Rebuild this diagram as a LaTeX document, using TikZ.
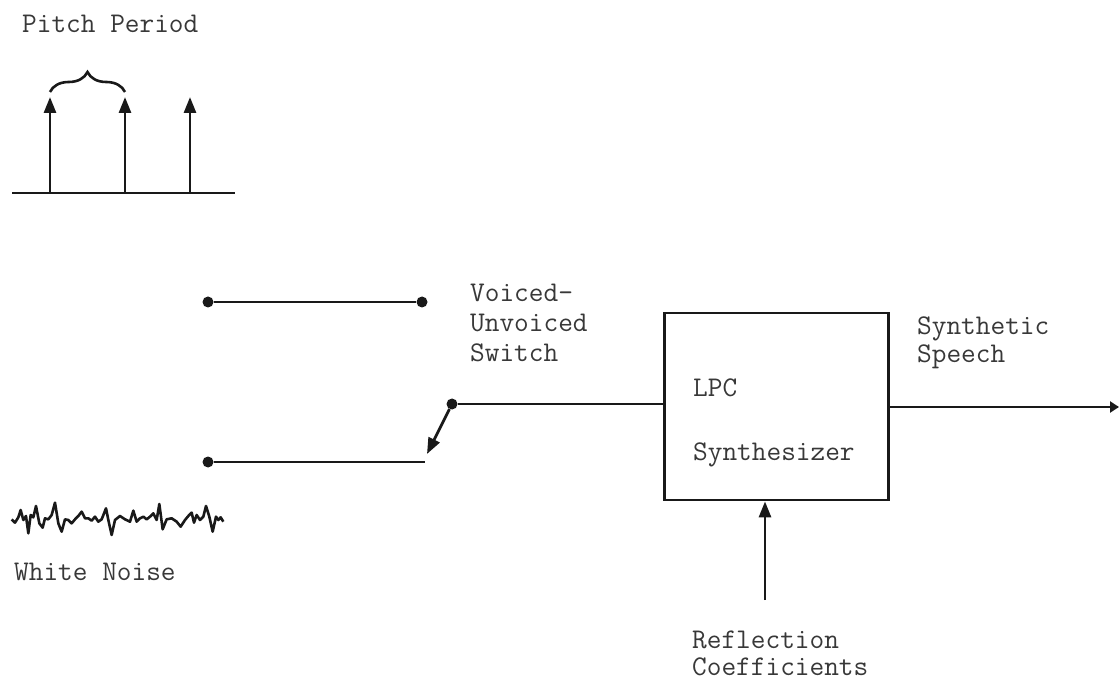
\documentclass[tikz,border=0pt]{standalone}
\usepackage{fontspec}
\usetikzlibrary{arrows.meta,decorations.pathreplacing}
\begin{document}
\begin{tikzpicture}[x=1pt,y=-1pt,
  wire/.style={line width=2.8pt,draw=black!90,line cap=butt},
  arr/.style={wire,-{Triangle[length=16pt,width=12pt]}},
  dot/.style={circle,fill=black!90,inner sep=0pt,minimum size=11pt},
  lbl/.style={anchor=base west,inner sep=0pt,text=black!78,
    font=\ttfamily\fontsize{28.5}{34}\selectfont},
  blk/.style={draw=black!90,line width=2.8pt,inner sep=0pt}]
\useasboundingbox (0,0) rectangle (1119,684);

% pulse train source
\node[lbl] (pitch) at (22,33) {Pitch Period};
\coordinate (axl) at (12,193);
\coordinate (axr) at (235,193);
\draw[wire] (axl) -- (axr);
\coordinate (p1) at (50,193);
\coordinate (p2) at (125,193);
\coordinate (p3) at (190,193);
\coordinate (t1) at (50,97);
\coordinate (t2) at (125,97);
\coordinate (t3) at (190,97);
\draw[arr] (p1) -- (t1);
\draw[arr] (p2) -- (t2);
\draw[arr] (p3) -- (t3);
\coordinate (b1) at (50,92);
\coordinate (b2) at (125,92);
\draw[line width=2.6pt,draw=black!90,decorate,decoration={brace,amplitude=20pt}] (b1) -- (b2);

% switch contacts
\node[dot] (va) at (208,302) {};
\node[dot] (vb) at (422,302) {};
\draw[wire] (va) -- (vb);
\node[dot] (ua) at (208,462) {};
\coordinate (ub) at (425,462);
\draw[wire] (ua) -- (ub);
\node[dot] (piv) at (452,404) {};
\coordinate (arm) at (427,454);
\draw[arr] (piv) -- (arm);
\node[lbl] (sw1) at (470,302) {Voiced-};
\node[lbl] (sw2) at (470,332) {Unvoiced};
\node[lbl] (sw3) at (470,362) {Switch};

% white noise source
\begin{scope}[shift={(0,480)},scale=1/3]
\draw[line width=2.6pt,draw=black!90,line join=round]
 (35,118) -- (45,128) -- (55,112) -- (62,90) -- (70,120) -- (78,108) -- (85,160)
 -- (92,105) -- (100,112) -- (108,78) -- (118,130) -- (128,143) -- (135,115)
 -- (145,118) -- (155,105) -- (165,68) -- (175,130) -- (185,155) -- (195,118)
 -- (205,120) -- (215,130) -- (225,118) -- (235,108) -- (245,95) -- (255,115)
 -- (265,115) -- (275,122) -- (285,110) -- (295,125) -- (305,118) -- (318,85)
 -- (325,120) -- (335,165) -- (345,120) -- (360,108) -- (375,118) -- (390,125)
 -- (400,92) -- (410,125) -- (420,115) -- (430,110) -- (440,118) -- (450,110)
 -- (460,100) -- (470,120) -- (478,72) -- (488,148) -- (500,118) -- (515,115)
 -- (530,125) -- (542,140) -- (555,120) -- (565,108) -- (575,98) -- (582,128)
 -- (590,105) -- (600,120) -- (610,110) -- (618,78) -- (628,110) -- (638,155)
 -- (648,110) -- (655,120) -- (662,112) -- (670,125);
\end{scope}
\node[lbl] (wn) at (14,580) {White Noise};

% synthesizer block
\node[blk,minimum width=224pt,minimum height=187pt] (lpc) at (776.5,406.5) {};
\node[lbl] (lpc1) at (693,397) {LPC};
\node[lbl] (lpc2) at (693,460) {Synthesizer};
\draw[wire] (piv) -- (piv -| lpc.west);

% output
\coordinate (out) at (1119,407);
\draw[wire,-{Triangle[length=9pt,width=11pt]}] (lpc.east |- out) -- (out);
\node[lbl] (ss1) at (917,335) {Synthetic};
\node[lbl] (ss2) at (917,363) {Speech};

% coefficient input
\coordinate (rc) at (765,600);
\draw[arr] (rc) -- (rc |- lpc.south);
\node[lbl] (rc1) at (692,648) {Reflection};
\node[lbl] (rc2) at (692,675) {Coefficients};
\end{tikzpicture}
\end{document}
